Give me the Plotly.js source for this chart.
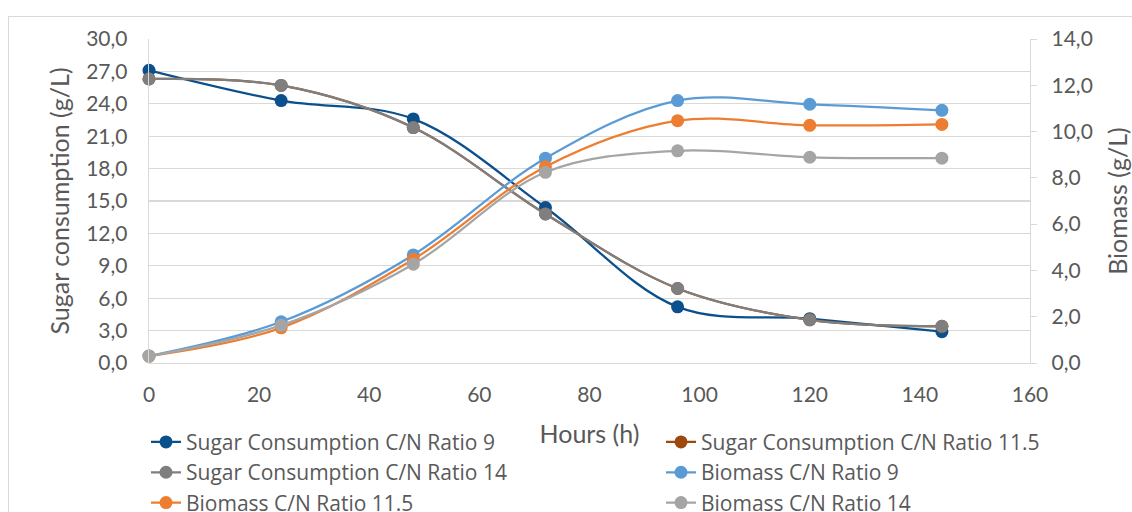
<!DOCTYPE html>
<html>
<head>
<meta charset="utf-8">
<script src="https://cdn.plot.ly/plotly-3.0.1.min.js"></script>
<style>
  html, body { margin: 0; padding: 0; background: #fff; }
  #wrap { position: relative; width: 1132px; height: 512px; overflow: hidden; }
  #chart { position: absolute; left: 0; top: 0; width: 1132px; height: 512px; }
  #frame { position: absolute; left: 8px; top: 16px; width: 1140px; height: 520px; border: 1px solid #D9D9D9; pointer-events: none; }
</style>
</head>
<body>
<div id="wrap">
  <div id="chart"></div>
  <div id="frame"></div>
</div>
<script>
const hours = [0, 24, 48, 72, 96, 120, 144];

const sugarRatio9   = [27.1, 24.3, 22.6, 14.4, 5.2, 4.1, 2.9];
const sugarRatio115 = [26.3, 25.7, 21.8, 13.8, 6.9, 4.0, 3.4];
const sugarRatio14  = [26.3, 25.7, 21.8, 13.8, 6.9, 4.0, 3.4];

const biomassRatio9   = [0.30, 1.78, 4.67, 8.85, 11.34, 11.18, 10.92];
const biomassRatio115 = [0.30, 1.52, 4.48, 8.48, 10.47, 10.27, 10.31];
const biomassRatio14  = [0.30, 1.63, 4.27, 8.24, 9.17, 8.89, 8.85];

const seriesNames = [
  'Sugar Consumption C/N Ratio 9',
  'Sugar Consumption C/N Ratio 11.5',
  'Sugar Consumption C/N Ratio 14',
  'Biomass C/N Ratio 9',
  'Biomass C/N Ratio 11.5',
  'Biomass C/N Ratio 14'
];
const seriesColors = ['#0B4F8C', '#9E480E', '#7F7F7F', '#5B9BD5', '#ED7D31', '#A5A5A5'];
const seriesData = [sugarRatio9, sugarRatio115, sugarRatio14, biomassRatio9, biomassRatio115, biomassRatio14];
const seriesAxis = ['y', 'y', 'y', 'y2', 'y2', 'y2'];

const traces = seriesData.map((vals, i) => ({
  type: 'scatter',
  mode: 'lines+markers',
  x: hours,
  y: vals,
  yaxis: seriesAxis[i],
  name: seriesNames[i],
  line: { color: seriesColors[i], width: 2.25, shape: 'spline', smoothing: 1 },
  marker: { color: seriesColors[i], size: 13 },
  cliponaxis: false
}));

const textColor = '#595959';
const gridColor = '#D9D9D9';
const fontFam = 'Lato, "Open Sans", sans-serif';
const legendFam = '"Open Sans", Lato, sans-serif';

const layout = {
  width: 1132,
  height: 512,
  margin: { l: 149, r: 102, t: 39, b: 149, pad: 0, autoexpand: false },
  paper_bgcolor: '#ffffff',
  plot_bgcolor: '#ffffff',
  separators: ',.',
  font: { family: fontFam, size: 21, color: textColor },
  showlegend: true,
  xaxis: {
    range: [0, 160],
    dtick: 20,
    tick0: 0,
    showgrid: false,
    zeroline: false,
    showline: true,
    linecolor: gridColor,
    linewidth: 1.3,
    ticks: '',
    ticklabelstandoff: 12,
    tickfont: { family: fontFam, size: 21, color: textColor },
    title: { text: 'Hours (h)', font: { family: fontFam, size: 25, color: textColor }, standoff: 21 },
    automargin: false,
    fixedrange: true
  },
  yaxis: {
    range: [0, 30],
    dtick: 3,
    tick0: 0,
    tickformat: '.1f',
    showgrid: true,
    gridcolor: gridColor,
    gridwidth: 1.3,
    zeroline: false,
    showline: true,
    linecolor: gridColor,
    linewidth: 1.3,
    ticks: '',
    ticklabelstandoff: 16,
    tickfont: { family: fontFam, size: 21, color: textColor },
    title: { text: 'Sugar consumption (g/L)', font: { family: fontFam, size: 25, color: textColor }, standoff: 9 },
    automargin: false,
    fixedrange: true
  },
  yaxis2: {
    overlaying: 'y',
    side: 'right',
    range: [0, 14],
    dtick: 2,
    tick0: 0,
    tickformat: '.1f',
    showgrid: false,
    zeroline: false,
    showline: true,
    linecolor: gridColor,
    linewidth: 1.3,
    ticks: 'outside',
    ticklen: 6,
    tickcolor: gridColor,
    ticklabelstandoff: 10,
    tickfont: { family: fontFam, size: 21, color: textColor },
    title: { text: 'Biomass (g/L)', font: { family: fontFam, size: 25, color: textColor }, standoff: 17 },
    automargin: false,
    fixedrange: true
  },
  legend: {
    orientation: 'h',
    x: -0.0034,
    xanchor: 'left',
    y: -0.1815,
    yanchor: 'top',
    traceorder: 'normal',
    entrywidth: 470,
    entrywidthmode: 'pixels',
    font: { family: legendFam, size: 21, color: textColor },
    bgcolor: 'rgba(0,0,0,0)',
    itemclick: false,
    itemdoubleclick: false
  }
};

Plotly.newPlot('chart', traces, layout, { displayModeBar: false, staticPlot: true });
</script>
</body>
</html>
